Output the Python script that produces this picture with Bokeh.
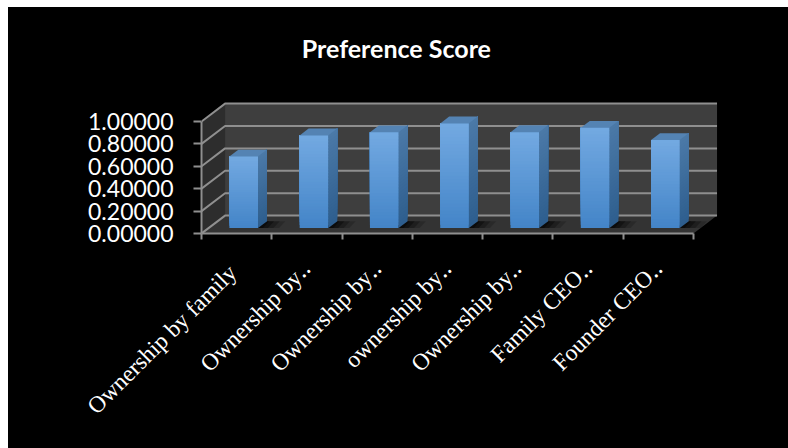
from bokeh.embed import file_html
from bokeh.models import FixedTicker, Label, Range1d
from bokeh.plotting import figure
from bokeh.resources import INLINE

chart_title = "Preference Score"
categories = ["Ownership by family\u00a0", "Ownership by\u2025", "Ownership by\u2025", "ownership by\u2025",
              "Ownership by\u2025", "Family CEO\u2025", "Founder CEO\u2025"]
scores = [0.640, 0.828, 0.855, 0.935, 0.857, 0.896, 0.786]
value_ticks = [0.0, 0.2, 0.4, 0.6, 0.8, 1.0]

# Depth of the oblique projection, in axis units
DEPTH_X = 0.335
DEPTH_Y = 0.16
BAR_WIDTH = 0.408
BAR_NEAR = 0.30
BAR_FAR = 0.68
SLICES = 30
N = len(categories)


def mix(a, b, t):
    return "#%02x%02x%02x" % tuple(round(a[k] + (b[k] - a[k]) * t) for k in range(3))


# The frame runs to the top of the black panel so the heading can sit inside it;
# the element itself is black too, so no light line shows along the frame edges
p = figure(width=780, height=441, output_backend="svg", toolbar_location=None,
           x_range=Range1d(0, 7.37), y_range=Range1d(0, 2.018),
           min_border_left=193, min_border_right=69, min_border_top=0, min_border_bottom=215,
           background_fill_color=None, border_fill_color="black",
           outline_line_color=None, margin=(7, 0, 0, 8),
           styles={"background-color": "black"})

p.add_layout(Label(x=1.426, y=1.66, text=chart_title, text_color="white", text_font="Lato",
                   text_font_style="bold", text_font_size="25px", text_baseline="middle"))

p.grid.visible = False

# Walls and floor of the box
p.patch([0, DEPTH_X, DEPTH_X, 0], [0, DEPTH_Y, 1 + DEPTH_Y, 1], fill_color="#2d2d2d", line_color=None)
p.patch([DEPTH_X, N + DEPTH_X, N + DEPTH_X, DEPTH_X], [DEPTH_Y, DEPTH_Y, 1 + DEPTH_Y, 1 + DEPTH_Y],
        fill_color="#3e3e3e", line_color=None)
p.patch([0, N, N + DEPTH_X, DEPTH_X], [0, 0, DEPTH_Y, DEPTH_Y], fill_color="#333333", line_color=None)

# Gridlines run across the back wall and down the side wall
p.multi_line([[0, DEPTH_X, N + DEPTH_X] for _ in value_ticks],
             [[v, v + DEPTH_Y, v + DEPTH_Y] for v in value_ticks],
             line_color="#8f8f8f", line_width=2)

front_top, front_bottom = (116, 170, 226), (68, 133, 200)
side_top, side_bottom = (76, 122, 168), (46, 94, 142)

for i, score in enumerate(scores):
    left = i + 0.5 - BAR_WIDTH / 2 + BAR_NEAR * DEPTH_X
    right = left + BAR_WIDTH
    base = BAR_NEAR * DEPTH_Y
    rear_x = (BAR_FAR - BAR_NEAR) * DEPTH_X
    rear_y = (BAR_FAR - BAR_NEAR) * DEPTH_Y
    top = base + score

    # Soft shadow cast on the floor, built up from fading layers
    for reach, alpha in [(0.30, 0.18), (0.22, 0.25), (0.14, 0.35), (0.07, 0.4)]:
        p.patch([right - 0.02, right + reach, right + reach + rear_x * 0.7, right + rear_x],
                [base, base, base + rear_y, base + rear_y],
                fill_color="black", fill_alpha=alpha, line_color=None)

    # Each slice reaches the bar top and is overpainted by the next, so no seams show
    for s in range(SLICES):
        t = s / SLICES
        colour_front = mix(front_bottom, front_top, t)
        colour_side = mix(side_bottom, side_top, t)
        y0 = base + score * t
        p.patch([left, right, right, left], [y0, y0, top, top],
                fill_color=colour_front, line_color=None)
        p.patch([right, right + rear_x, right + rear_x, right],
                [y0, y0 + rear_y, top + rear_y, top],
                fill_color=colour_side, line_color=None)

    p.patch([left, right, right + rear_x, left + rear_x],
            [top, top, top + rear_y, top + rear_y],
            fill_color="#5483b3", line_color=None)

# Value axis
yaxis = p.yaxis[0]
yaxis.ticker = FixedTicker(ticks=value_ticks)
yaxis.bounds = (0, 1)
yaxis.major_label_overrides = {v: f"{v:.5f}" for v in value_ticks}
yaxis.major_label_text_color = "white"
yaxis.major_label_text_font = "Lato"
yaxis.major_label_text_font_size = "23px"
yaxis.major_label_standoff = 20
yaxis.major_tick_in = 0
yaxis.major_tick_out = 8
yaxis.minor_tick_line_color = None
yaxis.axis_line_color = "#8f8f8f"
yaxis.major_tick_line_color = "#8f8f8f"
yaxis.axis_line_width = 2
yaxis.major_tick_line_width = 2

# Category axis: labels sit at slot centres, tick marks at slot boundaries
centres = [i + 0.5 for i in range(N)]
xaxis = p.xaxis[0]
xaxis.ticker = FixedTicker(ticks=centres, minor_ticks=list(range(N + 1)))
xaxis.bounds = (0, N)
xaxis.major_label_overrides = dict(zip(centres, categories))
xaxis.major_label_orientation = 0.785
xaxis.major_label_text_color = "white"
xaxis.major_label_text_font = "Liberation Serif"
xaxis.major_label_text_font_size = "23.5px"
xaxis.major_label_standoff = 25
xaxis.major_tick_in = 0
xaxis.major_tick_out = 0
xaxis.minor_tick_in = 0
xaxis.minor_tick_out = 6
xaxis.axis_line_color = "#8f8f8f"
xaxis.minor_tick_line_color = "#8f8f8f"
xaxis.axis_line_width = 2
xaxis.minor_tick_line_width = 2

open("out.html", "w").write(file_html(p, INLINE))
